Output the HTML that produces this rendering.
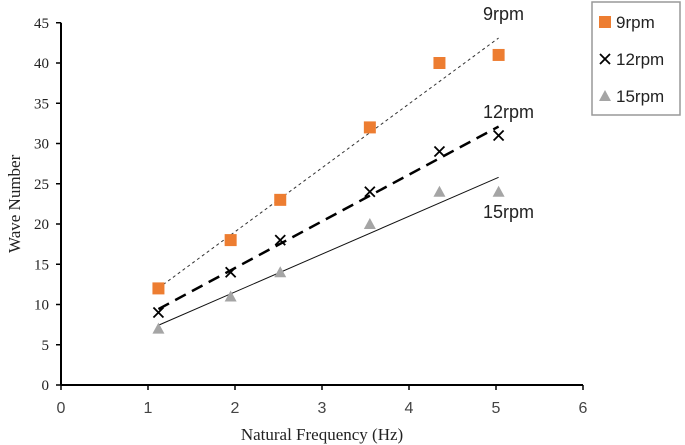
<!DOCTYPE html>
<html><head><meta charset="utf-8"><style>
body{margin:0;background:#fff;}
svg{display:block;font-family:"Liberation Serif",serif;}
.sans{font-family:"Liberation Sans",sans-serif;}
</style></head><body>
<svg id="chart" width="685" height="445" viewBox="0 0 685 445" xmlns="http://www.w3.org/2000/svg"></svg>
<script>
const xs = [1.12, 1.95, 2.52, 3.55, 4.35, 5.03];
const s9 = [12, 18, 23, 32, 40, 41];
const s12 = [9, 14, 18, 24, 29, 31];
const s15 = [7, 11, 14, 20, 24, 24];
const xTicks = [0,1,2,3,4,5,6];
const yTicks = [0,5,10,15,20,25,30,35,40,45];
const seriesNames = ['9rpm','12rpm','15rpm'];

const NS='http://www.w3.org/2000/svg';
const svg=document.getElementById('chart');
const X0=61, Y0=385, KX=87, KY=8.05;
function sx(v){return X0+v*KX;}
function sy(v){return Y0-v*KY;}
function el(t,a,parent){const e=document.createElementNS(NS,t);for(const k in a)e.setAttribute(k,a[k]);(parent||svg).appendChild(e);return e;}

let ax=el('line',{x1:X0,y1:sy(45),x2:X0,y2:Y0,stroke:'#000','stroke-width':2});


let axx=el('line',{x1:X0,y1:Y0,x2:sx(6),y2:Y0,stroke:'#000','stroke-width':2});


yTicks.forEach(v=>{
  el('line',{x1:X0-5,y1:sy(v),x2:X0,y2:sy(v),stroke:'#000','stroke-width':1.5});
  const t=el('text',{x:X0-12,y:sy(v)+5,'text-anchor':'end','font-size':15,fill:'#222'});
  t.textContent=v;
  
  
});
xTicks.forEach(v=>{
  el('line',{x1:sx(v),y1:Y0,x2:sx(v),y2:Y0+5,stroke:'#000','stroke-width':1.5});
  const t=el('text',{x:sx(v),y:Y0+28,'text-anchor':'middle','font-size':16,fill:'#444',class:'sans'});
  t.textContent=v;
  
  
});
let xt=el('text',{x:sx(3),y:440,'text-anchor':'middle','font-size':17,fill:'#222'});
xt.textContent='Natural Frequency (Hz)';


let yt=el('text',{x:0,y:0,'text-anchor':'middle','font-size':17,fill:'#222',transform:'translate(20,'+sy(22.5)+') rotate(-90)'});
yt.textContent='Wave Number';



function fit(ys){const n=xs.length;const mx=xs.reduce((a,b)=>a+b)/n,my=ys.reduce((a,b)=>a+b)/n;let num=0,den=0;xs.forEach((x,i)=>{num+=(x-mx)*(ys[i]-my);den+=(x-mx)**2;});const b=num/den;return [my-b*mx,b];}
const styles=[
 {data:s9,stroke:'#333',w:1,dash:'3,3'},
 {data:s12,stroke:'#000',w:2.5,dash:'12,7'},
 {data:s15,stroke:'#111',w:1,dash:''}
];
styles.forEach((s,i)=>{
  const [a,b]=fit(s.data);const x1=xs[0],x2=xs[xs.length-1];
  const l=el('line',{x1:sx(x1),y1:sy(a+b*x1),x2:sx(x2),y2:sy(a+b*x2),stroke:s.stroke,'stroke-width':s.w,'stroke-dasharray':s.dash});
  
  
});
function square(cx,cy,g){return el('rect',{x:cx-6,y:cy-6,width:12,height:12,fill:'#ed7d31'},g);}
function cross(cx,cy,g){return el('path',{d:`M${cx-5} ${cy-5}L${cx+5} ${cy+5}M${cx+5} ${cy-5}L${cx-5} ${cy+5}`,stroke:'#000','stroke-width':1.8,fill:'none'},g);}
function tri(cx,cy,g){return el('polygon',{points:`${cx},${cy-6} ${cx+6},${cy+5} ${cx-6},${cy+5}`,fill:'#a5a5a5'},g);}
const markers=[square,cross,tri];
[s9,s12,s15].forEach((d,i)=>{
  d.forEach((v,j)=>{
    const m=markers[i](sx(xs[j]),sy(v));
    
    
  });
});
[[sx(4.85),20,'9rpm'],[sx(4.85),118,'12rpm'],[sx(4.85),218,'15rpm']].forEach(([x,y,t])=>{
  const e=el('text',{x:x,y:y,'font-size':18,fill:'#222',class:'sans'});
  e.textContent=t;
  
  
});
const lg=el('g',{});


el('rect',{x:592,y:2,width:88,height:113,fill:'#fff',stroke:'#999','stroke-width':1.5},lg);
markers.forEach((m,i)=>{
  const cy=22+i*37;
  m(605,cy,lg);
  const t=el('text',{x:616,y:cy+6,'font-size':17,fill:'#222',class:'sans'},lg);
  t.textContent=seriesNames[i];
  
  
});
</script>
</body></html>
